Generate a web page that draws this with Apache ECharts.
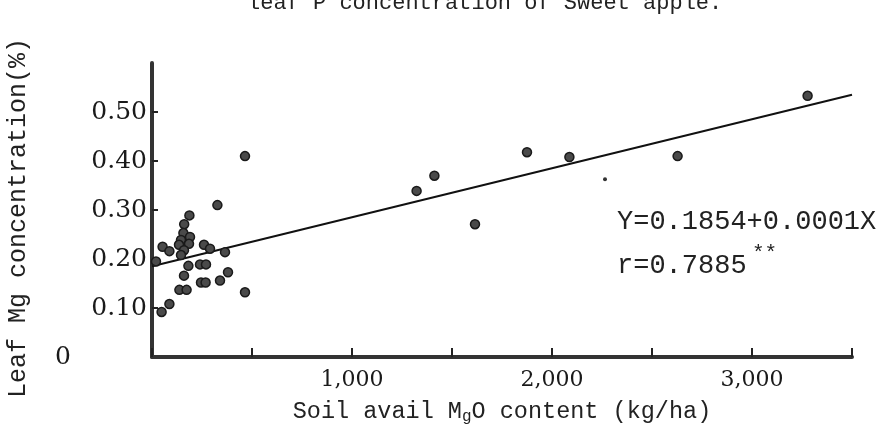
<!DOCTYPE html>
<html>
<head>
<meta charset="utf-8">
<script src="https://cdn.jsdelivr.net/npm/echarts@6/dist/echarts.min.js"></script>
<style>html,body{margin:0;padding:0;background:#fff;}#c{width:883px;height:446px;}</style>
</head>
<body>
<div id="c"></div>
<script>
// Soil available MgO (kg/ha) vs leaf Mg concentration (%)
var soilMgO = [1323, 1412, 1615, 1875, 2087, 2628, 3278,
  465, 327, 187, 161, 157, 190, 145, 185, 135, 160, 145, 53, 87, 260, 290, 365, 20,
  182, 240, 270, 160, 245, 268, 340, 380, 137, 173, 465, 87, 48];
var leafMg = [0.339, 0.370, 0.271, 0.418, 0.408, 0.410, 0.533,
  0.410, 0.310, 0.289, 0.271, 0.253, 0.245, 0.239, 0.231, 0.229, 0.218, 0.208, 0.225, 0.216, 0.229, 0.221, 0.214, 0.195,
  0.186, 0.189, 0.189, 0.166, 0.152, 0.152, 0.156, 0.173, 0.137, 0.137, 0.132, 0.108, 0.092];
var faintX = [2265];
var faintY = [0.363];
// regression Y = 0.1854 + 0.0001X drawn across the axis range
var regX = [0, 3500];
var regY = [0.1854, 0.5354];
var xTickLabels = {1000: '1,000', 2000: '2,000', 3000: '3,000'};
var yTickValues = [0, 0.1, 0.2, 0.3, 0.4, 0.5];
var yTickLabels = ['0', '0.10', '0.20', '0.30', '0.40', '0.50'];
var titleText = 'leaf P concentration of Sweet apple.';
var xName = 'Soil avail M{sub|g}O content (kg/ha)';
var yName = 'Leaf Mg concentration(%)';
var eqText = 'Y=0.1854+0.0001X';
var rText = 'r=0.7885';

function zip(a, b) { return a.map(function (v, i) { return [v, b[i]]; }); }

var chart = echarts.init(document.getElementById('c'), null, {renderer: 'canvas'});
var mono = '"Liberation Mono", "DejaVu Sans Mono", monospace';
var serif = '"DejaVu Serif", "Liberation Serif", serif';
chart.setOption({
  animation: false,
  backgroundColor: '#ffffff',
  title: {
    text: titleText, left: 242, top: -13,
    textStyle: {fontFamily: mono, fontSize: 22, fontWeight: 'normal', color: '#222'}
  },
  grid: {left: 152, right: 31, top: 63, bottom: 89},
  xAxis: {
    type: 'value', min: 0, max: 3500, interval: 500,
    name: xName,
    nameLocation: 'middle', nameGap: 42,
    nameTextStyle: {fontFamily: mono, fontSize: 23.5, color: '#222',
      rich: {sub: {fontFamily: mono, fontSize: 16, color: '#222', verticalAlign: 'bottom', padding: [10, 0, 0, 0]}}},
    splitLine: {show: false},
    axisLine: {show: true, onZero: false, lineStyle: {color: '#333', width: 4}},
    axisTick: {show: true, inside: true, length: 9, lineStyle: {color: '#222', width: 2}},
    axisLabel: {
      margin: 12, fontFamily: serif, fontSize: 22, color: '#1a1a1a',
      formatter: function (v) { return xTickLabels[v] || ''; }
    }
  },
  yAxis: {
    type: 'value', min: 0, max: 0.6, interval: 0.1,
    splitLine: {show: false},
    axisLine: {show: true, onZero: false, lineStyle: {color: '#333', width: 4}},
    axisTick: {show: true, inside: true, length: 6, customValues: [0.1, 0.2, 0.3, 0.4, 0.5], lineStyle: {color: '#222', width: 2}},
    axisLabel: {
      margin: 5, fontFamily: serif, fontSize: 25, color: '#1a1a1a',
      customValues: yTickValues,
      formatter: function (v) {
        var i = yTickValues.findIndex(function (t) { return Math.abs(t - v) < 1e-9; });
        if (i === 0) return '{z|' + yTickLabels[0] + '}';
        return i >= 0 ? yTickLabels[i] : '';
      },
      rich: {z: {fontFamily: serif, fontSize: 25, color: '#1a1a1a', padding: [0, 76, 0, 0]}}
    }
  },
  series: [
    {
      type: 'line', data: zip(regX, regY), showSymbol: false, symbol: 'none',
      lineStyle: {color: '#111', width: 2}, z: 2
    },
    {
      type: 'scatter', data: zip(soilMgO, leafMg), symbol: 'circle', symbolSize: 9,
      itemStyle: {color: '#4a4a4a', borderColor: '#1a1a1a', borderWidth: 1.5, opacity: 1}, z: 3
    },
    {
      type: 'scatter', data: zip(faintX, faintY), symbol: 'circle', symbolSize: 4,
      itemStyle: {color: '#333', opacity: 1}, z: 3
    }
  ],
  graphic: [
    {type: 'text', x: 18, y: 218, rotation: Math.PI / 2,
      style: {text: yName, font: '25px ' + mono, fill: '#222', textAlign: 'center', textVerticalAlign: 'middle'}},
    {type: 'text', left: 617, top: 208, style: {text: eqText, font: '27px ' + mono, fill: '#222'}},
    {type: 'text', left: 617, top: 252, style: {text: rText, font: '27px ' + mono, fill: '#222'}},
    {type: 'text', left: 752, top: 243, style: {text: '**', font: '21px ' + mono, fill: '#222'}}
  ]
});
</script>
</body>
</html>
